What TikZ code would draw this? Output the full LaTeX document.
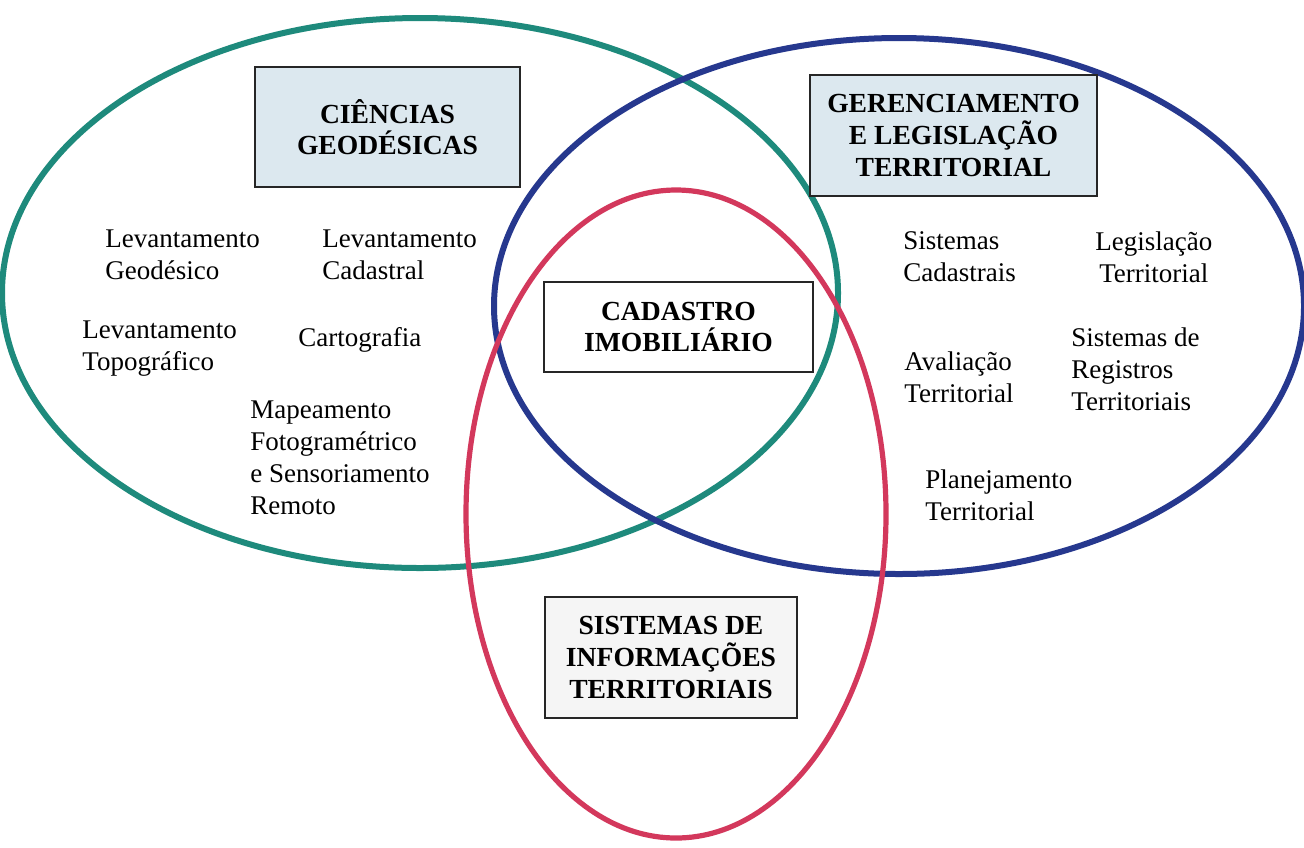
\documentclass[tikz,border=0pt]{standalone}
\usepackage{fontspec}
\setmainfont{Liberation Serif}
\definecolor{cgreen}{HTML}{1E8A7C}
\definecolor{cblue}{HTML}{26388E}
\definecolor{cred}{HTML}{D3385C}
\definecolor{boxblue}{HTML}{DCE8EF}
\definecolor{boxgray}{HTML}{F5F5F5}
\begin{document}
\begin{tikzpicture}[x=0.5pt,y=-0.5pt,
  ring/.style={line width=3pt},
  item/.style={inner sep=0pt,align=left,anchor=west,font=\fontsize{13.5}{16}\selectfont},
  titlebox/.style={draw=black!85,line width=1.2pt,font=\bfseries\fontsize{13.8}{15.8}\selectfont,align=center,inner sep=0pt}]
\useasboundingbox (0,0) rectangle (1304,847);
\fill[white] (0,0) rectangle (1304,847);
% rings
\coordinate (cg) at (420,293);
\coordinate (cb) at (899,306);
\coordinate (cr) at (676,514);
\draw[ring,cgreen] (cg) ellipse [x radius=209pt,y radius=137.5pt];
\draw[ring,cblue] (cb) ellipse [x radius=202.5pt,y radius=134pt];
\draw[ring,cred,line width=2.6pt] (cr) ellipse [x radius=105pt,y radius=162pt];
% title boxes
\node[titlebox,fill=boxblue,minimum width=132.5pt,minimum height=60pt] (cg-title) at (387.5,127) {CIÊNCIAS\\GEODÉSICAS};
\node[titlebox,fill=boxblue,minimum width=143.5pt,minimum height=60.5pt] (gl-title) at (953.5,135.5) {GERENCIAMENTO\\E LEGISLAÇÃO\\TERRITORIAL};
\node[titlebox,fill=white,minimum width=134.5pt,minimum height=45pt] (cad) at (678.5,327) {CADASTRO\\IMOBILIÁRIO};
\node[titlebox,fill=boxgray,minimum width=126pt,minimum height=60.5pt] (sit) at (671,657.5) {SISTEMAS DE\\INFORMAÇÕES\\TERRITORIAIS};
% left items
\node[item] (lg) at (105,255) {Levantamento\\Geodésico};
\node[item] (lc) at (322,255) {Levantamento\\Cadastral};
\node[item] (lt) at (82,349) {Levantamento\\Topográfico};
\node[item] (ca) at (298,340) {Cartografia};
\node[item] (mf) at (250,458) {Mapeamento\\Fotogramétrico\\e Sensoriamento\\Remoto};
% right items
\node[item] (sc) at (903,257) {Sistemas\\Cadastrais};
\node[item,align=center] (lt2) at (1095,257) {Legislação\\Territorial};
\node[item] (at) at (904,377) {Avaliação\\Territorial};
\node[item] (sr) at (1071,369) {Sistemas de\\Registros\\Territoriais};
\node[item] (pt) at (925,495) {Planejamento\\Territorial};
\end{tikzpicture}
\end{document}
